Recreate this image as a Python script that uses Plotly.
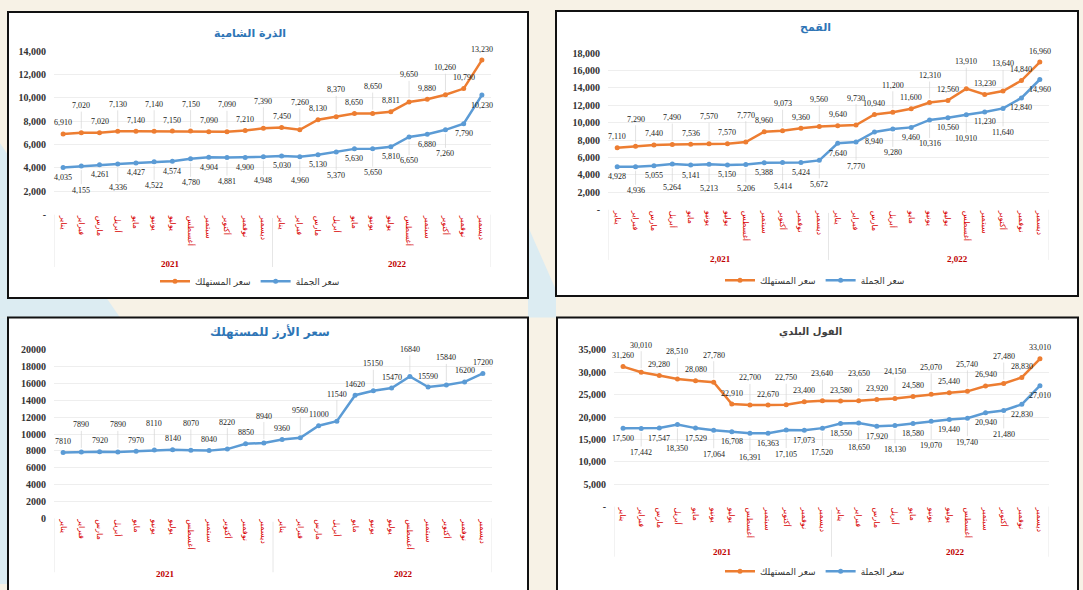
import plotly.graph_objects as go

W, H = 1083, 590

months = ["يناير", "فبراير", "مارس", "أبريل", "مايو", "يونيو",
          "يوليو", "أغسطس", "سبتمبر", "أكتوبر", "نوفمبر", "ديسمبر"]
x_labels = months + months
years = ["2021", "2022"]
years_wheat = ["2,021", "2,022"]

series_names = ["سعر المستهلك", "سعر الجملة"]

# الذرة الشامية
maize_consumer = [6910, 7020, 7020, 7130, 7140, 7140, 7150, 7150, 7090, 7090, 7210, 7390,
                  7450, 7260, 8130, 8370, 8650, 8650, 8811, 9650, 9880, 10260, 10790, 13230]
maize_wholesale = [4035, 4155, 4261, 4336, 4427, 4522, 4574, 4780, 4904, 4881, 4900, 4948,
                   5030, 4960, 5130, 5370, 5630, 5650, 5810, 6650, 6880, 7260, 7790, 10230]

# القمح
wheat_consumer = [7110, 7290, 7440, 7490, 7536, 7570, 7570, 7770, 8960, 9073, 9360, 9560,
                  9640, 9730, 10940, 11200, 11600, 12310, 12560, 13910, 13230, 13640, 14840, 16960]
wheat_wholesale = [4928, 4936, 5055, 5264, 5141, 5213, 5150, 5206, 5388, 5414, 5424, 5672,
                   7640, 7770, 8940, 9280, 9460, 10316, 10560, 10910, 11230, 11640, 12840, 14960]

# سعر الأرز للمستهلك
rice_consumer = [7810, 7890, 7920, 7890, 7970, 8110, 8140, 8070, 8040, 8220, 8850, 8940,
                 9360, 9560, 11000, 11540, 14620, 15150, 15470, 16840, 15590, 15840, 16200, 17200]

# الفول البلدي
beans_consumer = [31260, 30010, 29280, 28510, 28080, 27780, 22910, 22700, 22670, 22750, 23400, 23640,
                  23580, 23650, 23920, 24150, 24580, 25070, 25440, 25740, 26940, 27480, 28830, 33010]
beans_wholesale = [17500, 17442, 17547, 18350, 17529, 17064, 16708, 16391, 16363, 17105, 17073, 17520,
                   18550, 18650, 17920, 18130, 18580, 19070, 19440, 19740, 20940, 21480, 22830, 27010]

ORANGE = "#ed7d31"
BLUE = "#5b9bd5"
RED = "#d80000"
SERIF = "Liberation Serif"
AR = "DejaVu Sans"


def px(x):
    return x / W


def py(y):
    return 1 - y / H


xs = list(range(24))
fig = go.Figure()

panels = {
    1: dict(box=(8, 6, 528, 298), x=(54, 491), y=(46, 213), ymax=14000, dtick=2000, comma=True),
    2: dict(box=(556, 5, 1078, 296), x=(608, 1049), y=(48, 208), ymax=18000, dtick=2000, comma=True),
    3: dict(box=(8, 318, 528, 600), x=(54, 492), y=(351, 523), ymax=20000, dtick=2000, comma=False),
    4: dict(box=(557, 318, 1078, 600), x=(614, 1049), y=(351, 511), ymax=35000, dtick=5000, comma=True),
}

shapes = []
annotations = []

# background decoration
shapes.append(dict(type="path", xref="paper", yref="paper", layer="below",
                   path=f"M0,{py(140)} L{px(120)},{py(318)} L0,{py(318)} Z",
                   fillcolor="#dcecf2", line=dict(width=0)))
shapes.append(dict(type="rect", xref="paper", yref="paper", layer="below",
                   x0=0, x1=px(8), y0=0, y1=py(318), fillcolor="#dcecf2", line=dict(width=0)))
shapes.append(dict(type="path", xref="paper", yref="paper", layer="below",
                   path=f"M{px(528)},{py(225)} L{px(556)},{py(290)} L{px(556)},{py(318)} L{px(528)},{py(318)} Z",
                   fillcolor="#dcecf2", line=dict(width=0)))

for k, p in panels.items():
    bx0, by0, bx1, by1 = p["box"]
    shapes.append(dict(type="rect", xref="paper", yref="paper", layer="below",
                       x0=px(bx0), x1=px(bx1), y0=py(by1), y1=py(by0),
                       fillcolor="white", line=dict(color="#111111", width=2)))
    sfx = "" if k == 1 else str(k)
    ticks = list(range(0, p["ymax"] + 1, p["dtick"]))
    if p["comma"]:
        ttext = ["-" if t == 0 else f"{t:,}" for t in ticks]
    else:
        ttext = [str(t) for t in ticks]
    fig.update_layout(**{
        "xaxis" + sfx: dict(domain=[px(p["x"][0]), px(p["x"][1])], range=[-0.5, 23.5],
                            anchor="y" + sfx, tickvals=xs, ticktext=x_labels, tickangle=90,
                            tickfont=dict(family=AR, size=8, color=RED),
                            showgrid=False, zeroline=False, showline=False, ticks="", fixedrange=True),
        "yaxis" + sfx: dict(domain=[py(p["y"][1]), py(p["y"][0])], range=[0, p["ymax"]],
                            anchor="x" + sfx, tickvals=ticks, ticktext=ttext,
                            tickfont=dict(family=SERIF, size=10, color="#333333", weight="bold"),
                            ticklabelstandoff=7,
                            showgrid=True, gridcolor="#eeeeee", gridwidth=1, zeroline=False,
                            showline=False, ticks="", fixedrange=True),
    })
    for xv in (-0.5, 11.5, 23.5):
        shapes.append(dict(type="line", xref="x" + sfx, yref="y" + sfx + " domain",
                           x0=xv, x1=xv, y0=-0.32, y1=0 if xv != 11.5 else -0.02,
                           line=dict(color="#e6e6e6", width=1)))


def add_series(vals, color, name, k, legend, showlegend=True):
    sfx = "" if k == 1 else str(k)
    fig.add_trace(go.Scatter(x=xs, y=vals, mode="lines+markers", name=name,
                             line=dict(color=color, width=2.5),
                             marker=dict(color=color, size=5),
                             xaxis="x" + sfx, yaxis="y" + sfx,
                             legend=legend, showlegend=showlegend, hoverinfo="skip"))


add_series(maize_consumer, ORANGE, series_names[0], 1, "legend")
add_series(maize_wholesale, BLUE, series_names[1], 1, "legend")
add_series(wheat_consumer, ORANGE, series_names[0], 2, "legend2")
add_series(wheat_wholesale, BLUE, series_names[1], 2, "legend2")
add_series(rice_consumer, BLUE, series_names[0], 3, "legend", showlegend=False)
add_series(beans_consumer, ORANGE, series_names[0], 4, "legend3")
add_series(beans_wholesale, BLUE, series_names[1], 4, "legend3")


def add_labels(vals, k, above, comma=True):
    sfx = "" if k == 1 else str(k)
    n = len(vals)
    for i, v in enumerate(vals):
        txt = f"{v:,}" if comma else str(v)
        far = (i % 2 == 1) and i != n - 1
        base = dict(x=i, y=v, xref="x" + sfx, yref="y" + sfx, text=txt,
                    font=dict(family=SERIF, size=8, color="#222222"))
        if far:
            base.update(showarrow=True, ax=0, ay=-27 if above else 24, arrowhead=0,
                        arrowwidth=0.7, arrowcolor="#d6d6d6", standoff=4)
        else:
            base.update(showarrow=False, yshift=11 if above else -10)
        annotations.append(base)


add_labels(maize_consumer, 1, True)
add_labels(maize_wholesale, 1, False)
add_labels(wheat_consumer, 2, True)
add_labels(wheat_wholesale, 2, False)
add_labels(rice_consumer, 3, True, comma=False)
add_labels(beans_consumer, 4, True)
add_labels(beans_wholesale, 4, False)

titles = [
    ("الذرة الشامية", 250, 28, "#2e75b6", 11),
    ("القمح", 815, 22, "#2e75b6", 11),
    ("سعر الأرز للمستهلك", 270, 332, "#2e75b6", 12),
    ("الفول البلدي", 810, 333, "#404040", 10),
]
for t, x, y, c, s in titles:
    annotations.append(dict(x=px(x), y=py(y), xref="paper", yref="paper", text=f"<b>{t}</b>",
                            xanchor="center", yanchor="middle",
                            showarrow=False, font=dict(family=AR, size=s, color=c)))

year_pos = [
    (years, (170, 397), 263),
    (years_wheat, (720, 957), 258),
    (years, (165, 403), 580),
    (years, (722, 955), 557),
]
for labs, xs_pos, y in year_pos:
    for lab, x in zip(labs, xs_pos):
        annotations.append(dict(x=px(x), y=py(y), xref="paper", yref="paper", text=f"<b>{lab}</b>",
                                xanchor="center", yanchor="middle",
                                showarrow=False, font=dict(family=SERIF, size=9, color="#c00000")))

legend_style = dict(orientation="h", xanchor="center", yanchor="middle",
                    bgcolor="rgba(0,0,0,0)", font=dict(family=AR, size=9, color="#333333"),
                    itemwidth=30, tracegroupgap=0)

fig.update_layout(
    width=W, height=H,
    margin=dict(l=0, r=0, t=0, b=0),
    paper_bgcolor="#f7f2e6",
    plot_bgcolor="white",
    shapes=shapes,
    annotations=annotations,
    legend=dict(x=px(250), y=py(281), **legend_style),
    legend2=dict(x=px(815), y=py(280), **legend_style),
    legend3=dict(x=px(815), y=py(577), **legend_style),
    showlegend=True,
)

fig.write_html("out.html")
